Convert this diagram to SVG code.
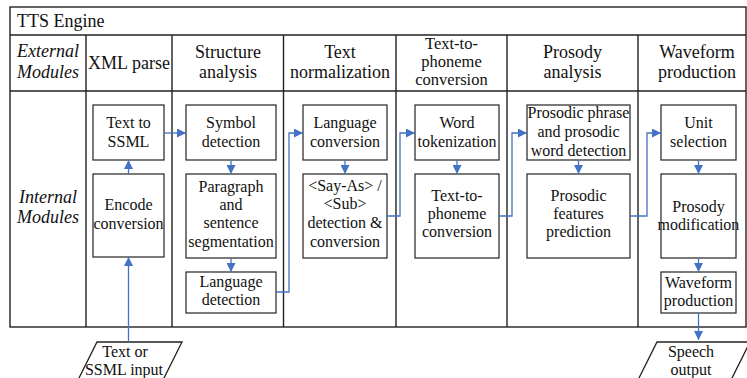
<svg xmlns="http://www.w3.org/2000/svg" width="747" height="378" viewBox="0 0 747 378">
<style>
.frame{fill:none;stroke:#222;stroke-width:1.4}
.box{fill:#fff;stroke:#333;stroke-width:1.3}
.io{fill:#fff;stroke:#222;stroke-width:1.3}
.conn{fill:none;stroke:#4472C4;stroke-width:1.3}
text{font-family:'Liberation Serif','Times New Roman',Tinos,'DejaVu Serif',serif;fill:#111;text-anchor:middle}
.t{font-size:16px}
.h{font-size:18px}
.h3{font-size:16.5px}
.i{font-style:italic}
</style>
<defs>
<marker id="ah" markerWidth="9" markerHeight="9" refX="9" refY="4.5" orient="auto" markerUnits="userSpaceOnUse">
<path d="M0,0 L9,4.5 L0,9 z" fill="#4472C4"/>
</marker>
</defs>
<rect x="-5" y="-5" width="760" height="390" fill="#fff"/>
<g id="table">
<rect class="frame" x="10" y="7" width="736" height="320"/>
<line class="frame" x1="10" y1="35" x2="746" y2="35"/>
<line class="frame" x1="10" y1="91" x2="746" y2="91"/>
<line class="frame" x1="86" y1="35" x2="86" y2="327"/>
<line class="frame" x1="172" y1="35" x2="172" y2="327"/>
<line class="frame" x1="283.5" y1="35" x2="283.5" y2="327"/>
<line class="frame" x1="396" y1="35" x2="396" y2="327"/>
<line class="frame" x1="507" y1="35" x2="507" y2="327"/>
<line class="frame" x1="638" y1="35" x2="638" y2="327"/>
<text x="17" y="27" class="h" style="text-anchor:start">TTS Engine</text>
<text class="h i"><tspan x="48" y="57">External</tspan><tspan x="48" y="78">Modules</tspan></text>
<text class="h i"><tspan x="48" y="203">Internal</tspan><tspan x="48" y="223">Modules</tspan></text>
<text class="h" x="129" y="69">XML parse</text>
<text class="h"><tspan x="228" y="58">Structure</tspan><tspan x="228" y="78">analysis</tspan></text>
<text class="h"><tspan x="340" y="58">Text</tspan><tspan x="340" y="78">normalization</tspan></text>
<text class="h3"><tspan x="451.5" y="49">Text-to-</tspan><tspan x="451.5" y="66.5">phoneme</tspan><tspan x="451.5" y="84.5">conversion</tspan></text>
<text class="h"><tspan x="572.5" y="58">Prosody</tspan><tspan x="572.5" y="78">analysis</tspan></text>
<text class="h"><tspan x="697" y="58">Waveform</tspan><tspan x="697" y="78">production</tspan></text>
</g>
<g id="text-to-ssml"><rect class="box" x="93" y="105" width="71" height="55"/><text class="t"><tspan x="128.5" y="128">Text to</tspan><tspan x="128.5" y="147">SSML</tspan></text></g>
<g id="encode-conversion"><rect class="box" x="93" y="174" width="71" height="83"/><text class="t"><tspan x="128.5" y="210">Encode</tspan><tspan x="128.5" y="229">conversion</tspan></text></g>
<g id="symbol-detection"><rect class="box" x="186" y="105" width="90" height="55"/><text class="t"><tspan x="231" y="128">Symbol</tspan><tspan x="231" y="147">detection</tspan></text></g>
<g id="paragraph"><rect class="box" x="186" y="174" width="90" height="84"/><text class="t"><tspan x="231" y="192">Paragraph</tspan><tspan x="231" y="210">and</tspan><tspan x="231" y="228">sentence</tspan><tspan x="231" y="247">segmentation</tspan></text></g>
<g id="language-detection"><rect class="box" x="186" y="272" width="90" height="41"/><text class="t"><tspan x="231" y="287">Language</tspan><tspan x="231" y="305">detection</tspan></text></g>
<g id="language-conversion"><rect class="box" x="303" y="105" width="84" height="55"/><text class="t"><tspan x="345" y="128">Language</tspan><tspan x="345" y="147">conversion</tspan></text></g>
<g id="say-as"><rect class="box" x="303" y="174" width="84" height="84"/><text class="t"><tspan x="345" y="191">&lt;Say-As&gt; /</tspan><tspan x="345" y="209">&lt;Sub&gt;</tspan><tspan x="345" y="228">detection &amp;</tspan><tspan x="345" y="247">conversion</tspan></text></g>
<g id="word-tokenization"><rect class="box" x="415" y="105" width="84" height="55"/><text class="t"><tspan x="457" y="128">Word</tspan><tspan x="457" y="147">tokenization</tspan></text></g>
<g id="text-to-phoneme"><rect class="box" x="415" y="174" width="84" height="84"/><text class="t"><tspan x="457" y="201">Text-to-</tspan><tspan x="457" y="219">phoneme</tspan><tspan x="457" y="237">conversion</tspan></text></g>
<g id="prosodic-phrase"><rect class="box" x="527" y="105" width="103" height="55"/><text class="t"><tspan x="578.5" y="118">Prosodic phrase</tspan><tspan x="578.5" y="137">and prosodic</tspan><tspan x="578.5" y="156">word detection</tspan></text></g>
<g id="prosodic-features"><rect class="box" x="527" y="174" width="103" height="84"/><text class="t"><tspan x="578.5" y="201">Prosodic</tspan><tspan x="578.5" y="219">features</tspan><tspan x="578.5" y="237">prediction</tspan></text></g>
<g id="unit-selection"><rect class="box" x="661" y="105" width="75" height="55"/><text class="t"><tspan x="698.5" y="128">Unit</tspan><tspan x="698.5" y="147">selection</tspan></text></g>
<g id="prosody-modification"><rect class="box" x="661" y="174" width="75" height="84"/><text class="t"><tspan x="698.5" y="212">Prosody</tspan><tspan x="698.5" y="230">modification</tspan></text></g>
<g id="waveform-production"><rect class="box" x="661" y="272" width="75" height="41"/><text class="t"><tspan x="698.5" y="288">Waveform</tspan><tspan x="698.5" y="306">production</tspan></text></g>
<g id="text-input"><path class="io" d="M97,342 L182,342 L161,384 L76,384 Z"/><text class="t"><tspan x="125" y="357">Text or</tspan><tspan x="124" y="375">SSML input</tspan></text></g>
<g id="speech-output"><path class="io" d="M657,342 L750,342 L729,384 L636,384 Z"/><text class="t"><tspan x="691" y="357">Speech</tspan><tspan x="691" y="375">output</tspan></text></g>
<g id="connectors">
<path class="conn" d="M128.5,342 L128.5,257" marker-end="url(#ah)"/>
<path class="conn" d="M128.5,174 L128.5,160" marker-end="url(#ah)"/>
<path class="conn" d="M164,133 L186,133" marker-end="url(#ah)"/>
<path class="conn" d="M231,160 L231,174" marker-end="url(#ah)"/>
<path class="conn" d="M231,258 L231,272" marker-end="url(#ah)"/>
<path class="conn" d="M276,292 L289,292 L289,133 L303,133" marker-end="url(#ah)"/>
<path class="conn" d="M345,160 L345,174" marker-end="url(#ah)"/>
<path class="conn" d="M387,216 L400,216 L400,133 L415,133" marker-end="url(#ah)"/>
<path class="conn" d="M457,160 L457,174" marker-end="url(#ah)"/>
<path class="conn" d="M499,216 L512,216 L512,133 L527,133" marker-end="url(#ah)"/>
<path class="conn" d="M578.5,160 L578.5,174" marker-end="url(#ah)"/>
<path class="conn" d="M630,216 L647,216 L647,133 L661,133" marker-end="url(#ah)"/>
<path class="conn" d="M698.5,160 L698.5,174" marker-end="url(#ah)"/>
<path class="conn" d="M698.5,258 L698.5,272" marker-end="url(#ah)"/>
<path class="conn" d="M698.5,313 L698.5,340" marker-end="url(#ah)"/>
</g>
</svg>
